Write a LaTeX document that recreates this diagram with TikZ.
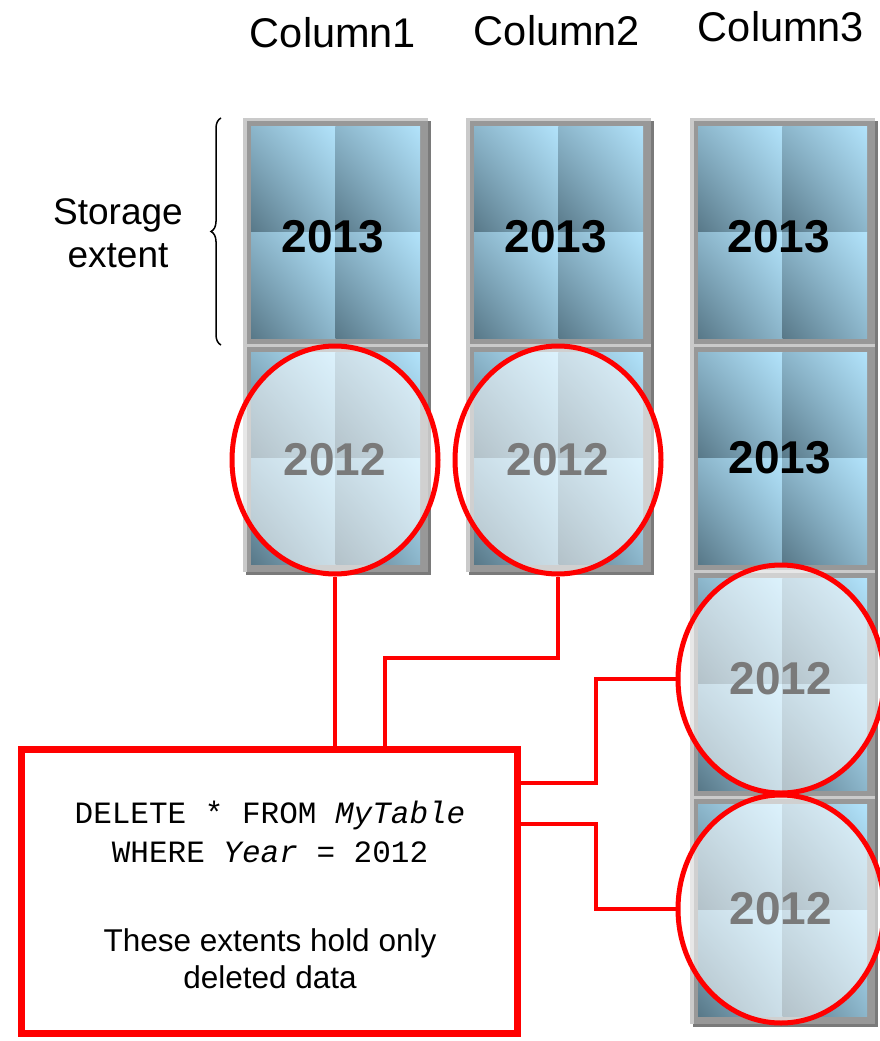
\documentclass[tikz,border=0pt]{standalone}
\usepackage{fontspec}
\setmainfont{Liberation Sans}
\setmonofont{Liberation Mono}
\usetikzlibrary{shapes.geometric,decorations.pathreplacing,shadings}
\definecolor{qlight}{HTML}{B2E3FB}
\definecolor{qmid}{HTML}{8CB6CB}
\definecolor{qdark}{HTML}{587888}
\definecolor{framegray}{HTML}{989898}
\definecolor{framelight}{HTML}{CACACA}
\definecolor{shadowgray}{HTML}{7A7A7A}
\definecolor{oldtext}{HTML}{7A7A7A}
\definecolor{boxshadow}{HTML}{9A5A5A}
\tikzset{
  extentblk/.pic={
    \fill[shadowgray] (3,3) rectangle (188,231);
    \fill[framegray] (0,0) rectangle (185,228);
    \fill[framelight] (0,0) rectangle (4,228);
    \fill[framelight] (0,0) rectangle (185,3);
    \foreach \qx in {8,92.5}{
      \foreach \qy in {8,114}{
        \shade[upper right=qlight, lower left=qdark, upper left=qmid, lower right=qmid]
          (\qx,\qy) rectangle ++(84.5,106);
      }
    }
  },
  newyear/.style={font=\bfseries\fontsize{46}{50}\selectfont, text=black, inner sep=0},
  oldext/.style={ellipse, draw=red, line width=5, fill=white, fill opacity=0.55,
    text opacity=1, text=oldtext, minimum width=206, minimum height=228, inner sep=0,
    font=\bfseries\fontsize{46}{50}\selectfont},
  conn/.style={draw=red, line width=4.5},
  header/.style={font=\fontsize{41.5}{48}\selectfont, inner sep=0},
}
\begin{document}
\begin{tikzpicture}[x=1pt,y=-1pt]
\fill[white] (0,0) rectangle (879,1041);
\useasboundingbox (0,0) rectangle (879,1041);

% headers
\node[header] (h1) at (333,33) {Column1};
\node[header] (h2) at (557,31) {Column2};
\node[header] (h3) at (781,27) {Column3};

% storage extent label and brace
\node[font=\fontsize{37}{43}\selectfont, align=center, inner sep=0] (se) at (118,233) {Storage\\extent};
\coordinate (bt) at (221,118);
\coordinate (bb) at (221,345);
\draw[line width=1.5, decorate, decoration={brace, amplitude=10}] (bb) -- (bt);

% column 1
\pic at (243,118) {extentblk};
\pic at (243,344) {extentblk};
% column 2
\pic at (466,118) {extentblk};
\pic at (466,344) {extentblk};
% column 3
\pic at (690,118) {extentblk};
\pic at (690,344) {extentblk};
\pic at (690,570) {extentblk};
\pic at (690,796) {extentblk};

% current extents
\node[newyear] (y1) at (333,237) {2013};
\node[newyear] (y2) at (556,237) {2013};
\node[newyear] (y3) at (779,237) {2013};
\node[newyear] (y4) at (780,458) {2013};

% deleted extents
\node[oldext] (e1) at (335,460) {2012};
\node[oldext] (e2) at (558,460) {2012};
\node[oldext] (e3) at (781,679) {2012};
\node[oldext] (e4) at (781,909) {2012};

% statement box
\fill[boxshadow] (24,752) rectangle (521,1037);
\node[draw=red, line width=7, fill=white, minimum width=496, minimum height=284, inner sep=0] (box) at (269,891) {};
\node[font=\ttfamily\fontsize{31}{39}\selectfont, align=center, inner sep=0] (code) at (270,832)
  {DELETE * FROM \textit{MyTable}\\WHERE \textit{Year} = 2012};
\node[font=\fontsize{31.5}{37}\selectfont, align=center, inner sep=0] (note) at (270,959)
  {These extents hold only\\deleted data};

% connectors
\coordinate (k2) at (385,658);
\coordinate (k3) at (596,783);
\coordinate (k4) at (596,824);
\draw[conn] (e1.south) -- (e1.south |- box.north);
\draw[conn] (e2.south) |- (k2) -- (k2 |- box.north);
\draw[conn] (e3.west) -| (k3) -- (k3 -| box.east);
\draw[conn] (e4.west) -| (k4) -- (k4 -| box.east);
\end{tikzpicture}
\end{document}
